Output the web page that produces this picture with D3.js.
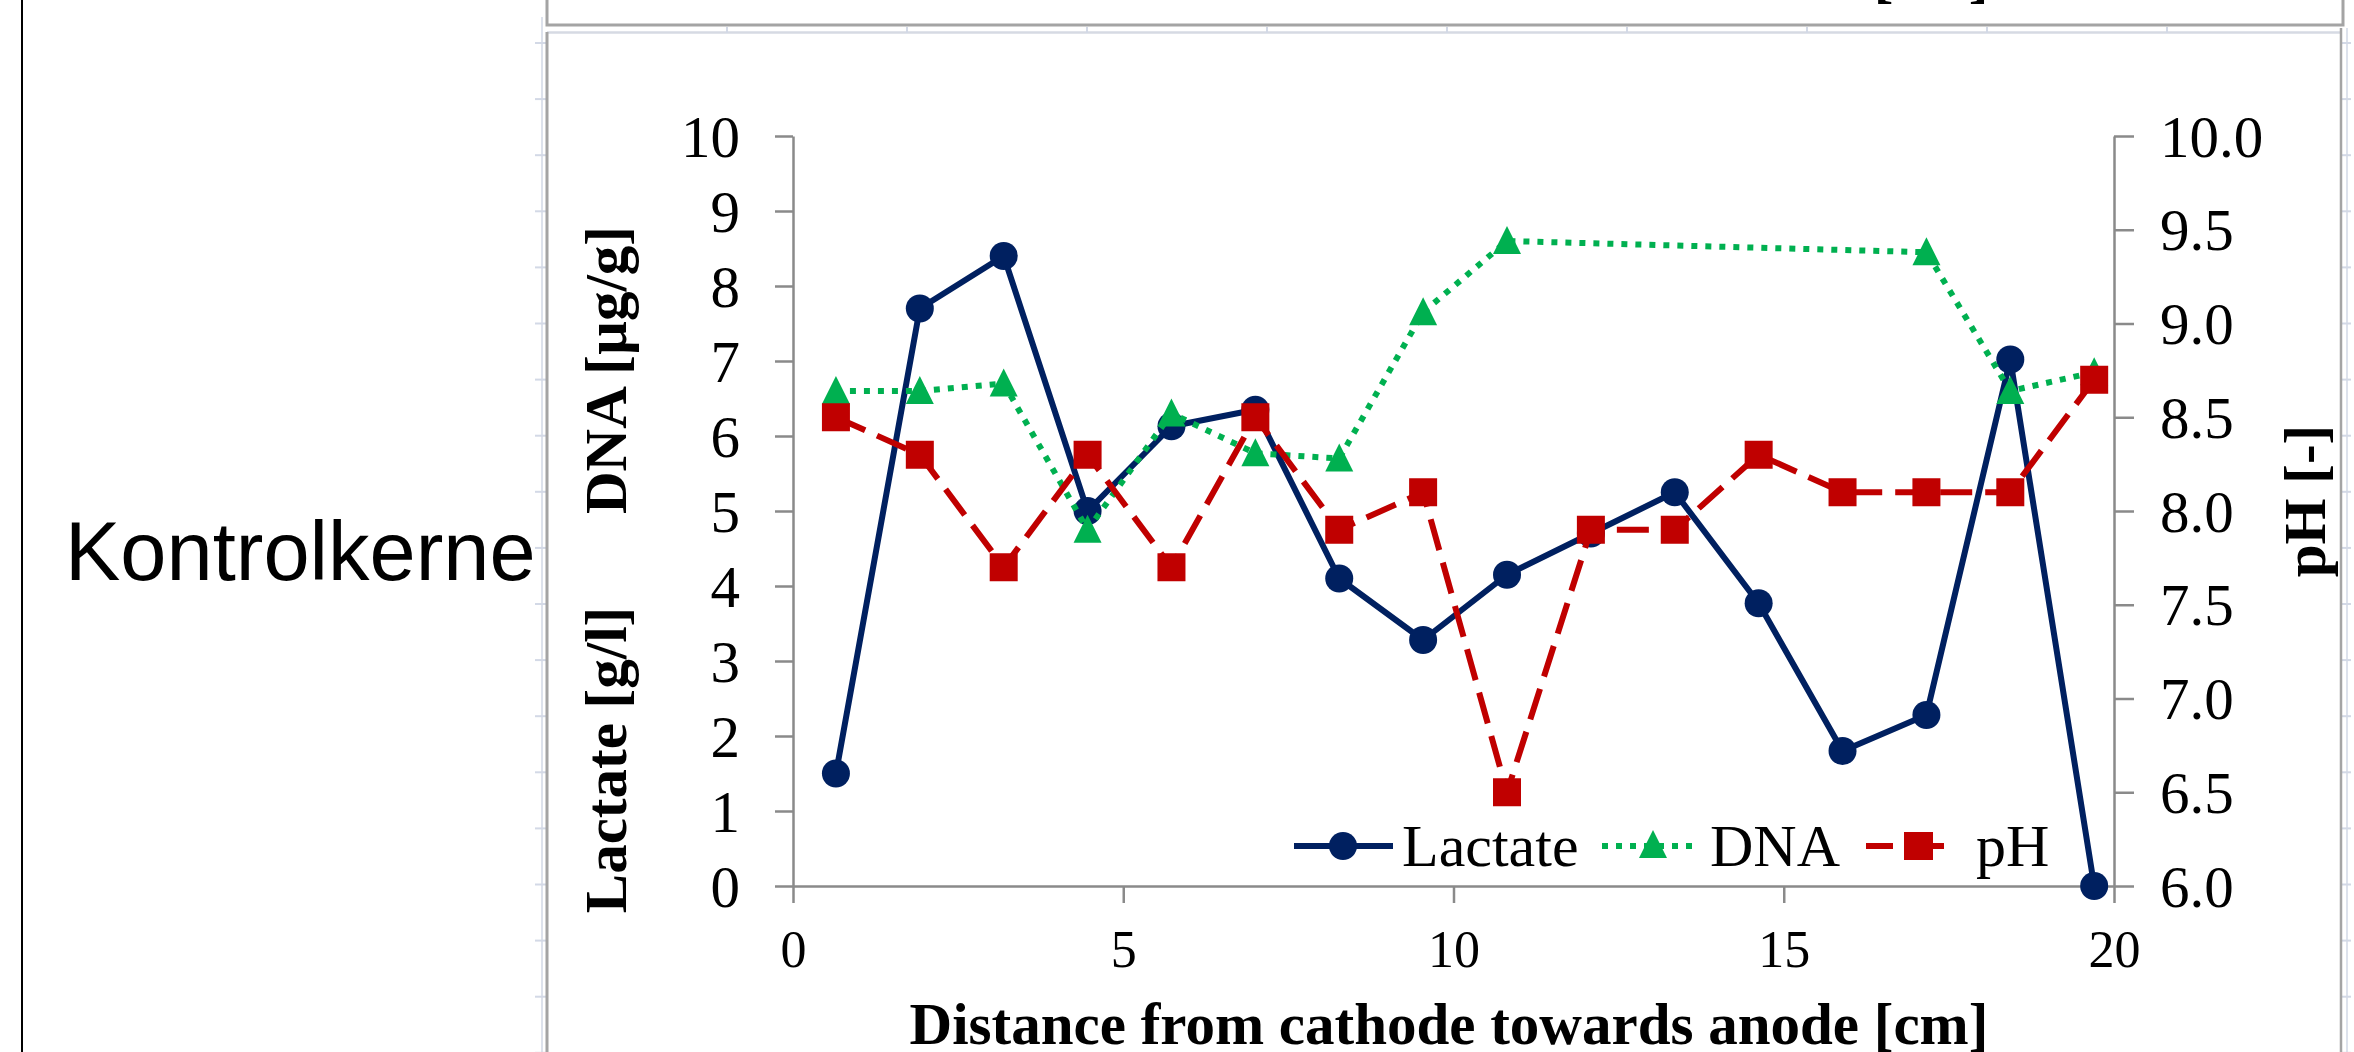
<!DOCTYPE html>
<html>
<head>
<meta charset="utf-8">
<script src="https://cdn.jsdelivr.net/npm/d3@7"></script>
<style>
  html, body { margin: 0; padding: 0; background: #fff; }
  svg { display: block; }
</style>
</head>
<body>
<svg id="chart" width="2354" height="1052"></svg>
<script>
// ---------- data ----------
const distance = [0.65, 1.92, 3.19, 4.46, 5.73, 7.0, 8.27, 9.54, 10.81, 12.08, 13.35, 14.62, 15.89, 17.16, 18.43, 19.7];
const lactate  = [1.5, 7.7, 8.4, 5.0, 6.13, 6.35, 4.1, 3.28, 4.15, 4.7, 5.25, 3.77, 1.8, 2.28, 7.02, 0];
const dna      = [6.6, 6.6, 6.7, 4.75, 6.3, 5.77, 5.7, 7.65, 8.6, null, null, null, null, 8.45, 6.6, 6.85];
const ph       = [8.5, 8.3, 7.7, 8.3, 7.7, 8.5, 7.9, 8.1, 6.5, 7.9, 7.9, 8.3, 8.1, 8.1, 8.1, 8.7];

const xTicks      = [0, 5, 10, 15, 20];
const leftTicks   = [0, 1, 2, 3, 4, 5, 6, 7, 8, 9, 10];
const rightTicks  = [6.0, 6.5, 7.0, 7.5, 8.0, 8.5, 9.0, 9.5, 10.0];
const seriesNames = ["Lactate", "DNA", "pH"];
const rowLabel    = "Kontrolkerne";
const xTitle      = "Distance from cathode towards anode [cm]";
const yTitleLow   = "Lactate [g/l]";
const yTitleHigh  = "DNA [µg/g]";
const yTitleRight = "pH [-]";

// ---------- setup ----------
const svg = d3.select("#chart");
const serif = "'Times New Roman', 'Liberation Serif', serif";
const sans = "Arial, 'Liberation Sans', sans-serif";

const x  = d3.scaleLinear().domain([0, 20]).range([793, 2114]);
const yL = d3.scaleLinear().domain([0, 10]).range([886, 136]);
const yR = d3.scaleLinear().domain([6, 10]).range([886, 136]);

const cNavy = "#002060", cGreen = "#00B050", cRed = "#C00000";
const axisCol = "#8a8a8a";

svg.append("rect").attr("width", 2354).attr("height", 1052).attr("fill", "#fff");

// ---------- page / table decoration ----------
const deco = svg.append("g");
// clipped title of the chart above
deco.append("text").attr("x", 1449).attr("y", -4).attr("text-anchor", "middle")
  .attr("font-family", serif).attr("font-weight", "bold").attr("font-size", 59)
  .text(xTitle);
deco.append("line").attr("x1", 22).attr("x2", 22).attr("y1", 0).attr("y2", 1052)
  .attr("stroke", "#000").attr("stroke-width", 2);
// faint guide lines
deco.append("line").attr("x1", 542).attr("x2", 542).attr("y1", 17).attr("y2", 1052)
  .attr("stroke", "#dde2ec").attr("stroke-width", 2);
deco.append("line").attr("x1", 2347).attr("x2", 2347).attr("y1", 28).attr("y2", 1052)
  .attr("stroke", "#dde2ec").attr("stroke-width", 2);
deco.append("line").attr("x1", 547).attr("x2", 2341).attr("y1", 32.5).attr("y2", 32.5)
  .attr("stroke", "#d6dae3").attr("stroke-width", 2.5);
const guideY = d3.range(19).map(k => 43 + 56.1 * k);
deco.selectAll(".gl").data(guideY).join("line")
  .attr("x1", 535).attr("x2", 546).attr("y1", d => d).attr("y2", d => d)
  .attr("stroke", "#d3d9e6").attr("stroke-width", 2);
deco.selectAll(".gr").data(guideY).join("line")
  .attr("x1", 2342).attr("x2", 2351).attr("y1", d => d).attr("y2", d => d)
  .attr("stroke", "#d3d9e6").attr("stroke-width", 2);
const guideX = d3.range(9).map(k => 727 + 180 * k);
deco.selectAll(".gt").data(guideX).join("line")
  .attr("x1", d => d).attr("x2", d => d).attr("y1", 27).attr("y2", 33)
  .attr("stroke", "#d3d9e6").attr("stroke-width", 2);
// chart above: border
deco.append("path").attr("d", "M547,0 V25 H2343 V0").attr("fill", "none")
  .attr("stroke", "#a4a4a4").attr("stroke-width", 3);
// this chart: border
deco.append("line").attr("x1", 547).attr("x2", 547).attr("y1", 32).attr("y2", 1052)
  .attr("stroke", "#a4a4a4").attr("stroke-width", 3);
deco.append("line").attr("x1", 2341).attr("x2", 2341).attr("y1", 28).attr("y2", 1052)
  .attr("stroke", "#a4a4a4").attr("stroke-width", 2.5);

svg.append("text").attr("x", 65).attr("y", 580)
  .attr("font-family", sans).attr("font-size", 83).attr("fill", "#000")
  .text(rowLabel);

// ---------- axes ----------
function styleAxis(g) {
  g.select(".domain").attr("stroke", axisCol).attr("stroke-width", 2.5);
  g.selectAll(".tick line").attr("stroke", axisCol).attr("stroke-width", 2.5);
  g.selectAll("text").attr("fill", "#000").attr("font-family", serif);
}

const gx = svg.append("g").attr("transform", "translate(0,886)")
  .call(d3.axisBottom(x).tickValues(xTicks).tickSize(17).tickSizeOuter(0).tickFormat(d3.format("d")));
styleAxis(gx);
gx.selectAll("text").attr("font-size", 52).attr("dy", null).attr("y", 81);

const gl = svg.append("g").attr("transform", "translate(793,0)")
  .call(d3.axisLeft(yL).tickValues(leftTicks).tickSize(18).tickSizeOuter(0).tickPadding(35).tickFormat(d3.format("d")));
styleAxis(gl);
gl.selectAll("text").attr("font-size", 59).attr("dy", "0.34em");

const gr = svg.append("g").attr("transform", "translate(2114,0)")
  .call(d3.axisRight(yR).tickValues(rightTicks).tickSize(20).tickSizeOuter(0).tickPadding(26).tickFormat(d3.format(".1f")));
styleAxis(gr);
gr.selectAll("text").attr("font-size", 59).attr("dy", "0.34em");

// axis titles
svg.append("text").attr("x", 1449).attr("y", 1044).attr("text-anchor", "middle")
  .attr("font-family", serif).attr("font-weight", "bold").attr("font-size", 59).text(xTitle);
svg.append("text").attr("transform", "translate(626,760) rotate(-90)").attr("text-anchor", "middle")
  .attr("font-family", serif).attr("font-weight", "bold").attr("font-size", 59).text(yTitleLow);
svg.append("text").attr("transform", "translate(626,370) rotate(-90)").attr("text-anchor", "middle")
  .attr("font-family", serif).attr("font-weight", "bold").attr("font-size", 59).text(yTitleHigh);
svg.append("text").attr("transform", "translate(2325,501) rotate(-90)").attr("text-anchor", "middle")
  .attr("font-family", serif).attr("font-weight", "bold").attr("font-size", 59).text(yTitleRight);

// ---------- series ----------
const lacData = distance.map((d, i) => ({x: d, y: lactate[i]}));
const dnaData = distance.map((d, i) => ({x: d, y: dna[i]})).filter(d => d.y !== null);
const phData  = distance.map((d, i) => ({x: d, y: ph[i]}));

const lineL = d3.line().x(d => x(d.x)).y(d => yL(d.y));
const lineR = d3.line().x(d => x(d.x)).y(d => yR(d.y));

const triPath = "M0,-15 L14,13 L-14,13 Z";

// Lactate
svg.append("path").datum(lacData).attr("d", lineL).attr("fill", "none")
  .attr("stroke", cNavy).attr("stroke-width", 6).attr("stroke-linejoin", "round");
svg.selectAll(".mL").data(lacData).join("circle")
  .attr("cx", d => x(d.x)).attr("cy", d => yL(d.y)).attr("r", 14).attr("fill", cNavy);

// DNA
svg.append("path").datum(dnaData).attr("d", lineL).attr("fill", "none")
  .attr("stroke", cGreen).attr("stroke-width", 6).attr("stroke-dasharray", "6,8");
svg.selectAll(".mD").data(dnaData).join("path")
  .attr("d", triPath).attr("transform", d => `translate(${x(d.x)},${yL(d.y)})`).attr("fill", cGreen);

// pH
svg.append("path").datum(phData).attr("d", lineR).attr("fill", "none")
  .attr("stroke", cRed).attr("stroke-width", 6).attr("stroke-dasharray", "32,13");
svg.selectAll(".mP").data(phData).join("rect")
  .attr("x", d => x(d.x) - 14).attr("y", d => yR(d.y) - 14).attr("width", 28).attr("height", 28).attr("fill", cRed);

// ---------- legend ----------
const leg = svg.append("g");
const legY = 846;
// Lactate
leg.append("line").attr("x1", 1294).attr("x2", 1393).attr("y1", legY).attr("y2", legY)
  .attr("stroke", cNavy).attr("stroke-width", 6);
leg.append("circle").attr("cx", 1343).attr("cy", legY).attr("r", 14).attr("fill", cNavy);
leg.append("text").attr("x", 1402).attr("y", 866).attr("font-family", serif).attr("font-size", 60).text(seriesNames[0]);
// DNA
leg.append("line").attr("x1", 1602).attr("x2", 1695).attr("y1", legY).attr("y2", legY)
  .attr("stroke", cGreen).attr("stroke-width", 6).attr("stroke-dasharray", "6,8");
leg.append("path").attr("d", triPath).attr("transform", `translate(1653,${legY - 1})`).attr("fill", cGreen);
leg.append("text").attr("x", 1710).attr("y", 866).attr("font-family", serif).attr("font-size", 60).text(seriesNames[1]);
// pH
leg.append("line").attr("x1", 1866).attr("x2", 1945).attr("y1", legY).attr("y2", legY)
  .attr("stroke", cRed).attr("stroke-width", 6).attr("stroke-dasharray", "27,24");
leg.append("rect").attr("x", 1904).attr("y", legY - 14).attr("width", 29).attr("height", 28).attr("fill", cRed);
leg.append("text").attr("x", 1976).attr("y", 866).attr("font-family", serif).attr("font-size", 60).text(seriesNames[2]);
</script>
</body>
</html>
